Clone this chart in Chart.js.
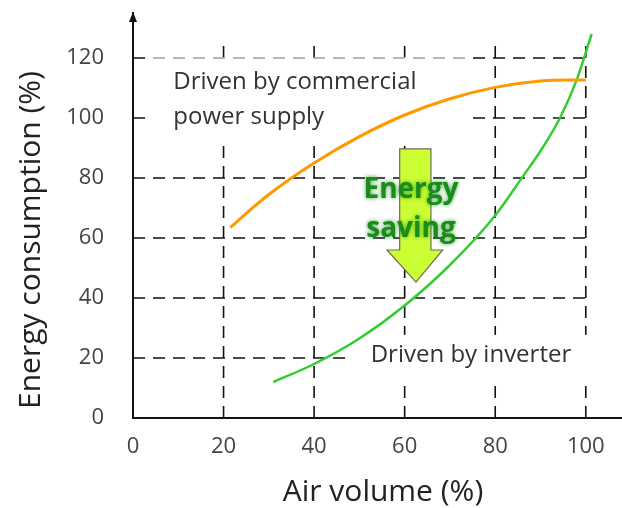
<!DOCTYPE html>
<html>
<head>
<meta charset="utf-8">
<script src="https://cdn.jsdelivr.net/npm/chart.js@4"></script>
<style>
    html, body { margin: 0; padding: 0; background: #fff; }
    #wrap { width: 622px; height: 508px; }
</style>
</head>
<body>
<div id="wrap"><canvas id="myChart"></canvas></div>
<script>
// values
const xTitle = 'Air volume (%)';
const yTitle = 'Energy consumption (%)';
const gridXValues = [20, 40, 60, 80, 100];
const gridYValues = [20, 40, 60, 80, 100, 120];

const commercialX = [21.5, 30, 40, 50, 60, 70, 80, 90, 100];
const commercialY = [63.5, 74.5, 85, 93.8, 101, 106.4, 110.2, 112.3, 112.7];

const inverterX = [31, 40, 50, 60, 70, 80, 86, 90, 94.3, 98, 101.3];
const inverterY = [12, 18, 26.5, 37.5, 51, 67.5, 80.3, 89, 100, 112.7, 128];

const commercialLabel = ['Driven by commercial', 'power supply'];
const inverterLabel = 'Driven by inverter';
const savingLabel = ['Energy', 'saving'];

const FONT = '"Open Sans", "Noto Sans", sans-serif';

function toPoints(xs, ys) {
    return xs.map(function (v, i) { return { x: v, y: ys[i] }; });
}

const extras = {
    id: 'extras',
    beforeDatasetsDraw(chart) {
        const ctx = chart.ctx;
        const x = chart.scales.x;
        const y = chart.scales.y;
        ctx.save();
        // dashed grid, limited to 0..100 / 0..125
        ctx.strokeStyle = '#111';
        ctx.lineWidth = 1.6;
        ctx.setLineDash([12, 8]);
        gridXValues.forEach(function (v) {
            const px = x.getPixelForValue(v);
            ctx.beginPath();
            ctx.moveTo(px, y.getPixelForValue(0));
            ctx.lineTo(px, y.getPixelForValue(125));
            ctx.stroke();
        });
        gridYValues.forEach(function (v) {
            const py = y.getPixelForValue(v);
            ctx.beginPath();
            ctx.moveTo(x.getPixelForValue(0), py);
            ctx.lineTo(x.getPixelForValue(100), py);
            ctx.stroke();
        });
        ctx.setLineDash([]);
        // white boxes behind the labels
        let l = x.getPixelForValue(3.7), r = x.getPixelForValue(74);
        let t = y.getPixelForValue(120), b = y.getPixelForValue(92.7);
        ctx.fillStyle = 'rgba(255,255,255,0.6)';
        ctx.fillRect(l, t - 1, r - l, b - t + 1);
        ctx.fillStyle = '#fff';
        ctx.fillRect(l, t + 1.5, r - l, b - t - 1.5);
        l = x.getPixelForValue(47.2); r = x.getPixelForValue(104);
        t = y.getPixelForValue(27.7); b = y.getPixelForValue(12.7);
        ctx.fillRect(l, t, r - l, b - t);

        // labels
        ctx.fillStyle = '#333';
        ctx.font = '24px ' + FONT;
        ctx.textAlign = 'left';
        ctx.textBaseline = 'middle';
        ctx.fillText(commercialLabel[0], x.getPixelForValue(8.9), y.getPixelForValue(112));
        ctx.fillText(commercialLabel[1], x.getPixelForValue(8.9), y.getPixelForValue(100.3));
        ctx.fillText(inverterLabel, x.getPixelForValue(52.5), y.getPixelForValue(21));
        ctx.restore();
    },
    afterDatasetsDraw(chart) {
        const ctx = chart.ctx;
        const x = chart.scales.x;
        const y = chart.scales.y;
        ctx.save();
        // big arrow
        const sl = x.getPixelForValue(58.9), sr = x.getPixelForValue(65.8);
        const hl = x.getPixelForValue(56.1), hr = x.getPixelForValue(68.4);
        const tx = x.getPixelForValue(62.5);
        const top = y.getPixelForValue(89.7), base = y.getPixelForValue(56), tip = y.getPixelForValue(45.3);
        ctx.beginPath();
        ctx.moveTo(sl, top);
        ctx.lineTo(sr, top);
        ctx.lineTo(sr, base);
        ctx.lineTo(hr, base);
        ctx.lineTo(tx, tip);
        ctx.lineTo(hl, base);
        ctx.lineTo(sl, base);
        ctx.closePath();
        ctx.fillStyle = '#ccff33';
        ctx.fill();
        ctx.strokeStyle = '#6e6e5a';
        ctx.lineWidth = 1.2;
        ctx.stroke();

        // energy saving text
        ctx.font = 'bold 28px ' + FONT;
        ctx.textAlign = 'center';
        ctx.textBaseline = 'middle';
        ctx.shadowColor = 'rgba(20,140,20,0.8)';
        ctx.shadowBlur = 4;
        ctx.fillStyle = '#1a8c1a';
        ctx.fillText(savingLabel[0], x.getPixelForValue(61.4), y.getPixelForValue(76));
        ctx.fillText(savingLabel[1], x.getPixelForValue(61.4), y.getPixelForValue(63));
        ctx.restore();
    },
    afterDraw(chart) {
        const ctx = chart.ctx;
        const area = chart.chartArea;
        const x = chart.scales.x;
        ctx.save();
        // arrowhead on top of y axis
        const ax = x.getPixelForValue(0);
        ctx.fillStyle = '#111';
        ctx.beginPath();
        ctx.moveTo(ax, area.top - 1);
        ctx.lineTo(ax - 4, area.top + 9);
        ctx.lineTo(ax + 4, area.top + 9);
        ctx.closePath();
        ctx.fill();
        // axis titles
        ctx.fillStyle = '#222';
        ctx.font = '30px ' + FONT;
        ctx.textAlign = 'center';
        ctx.textBaseline = 'middle';
        ctx.fillText(xTitle, 383, 492);
        ctx.translate(31, 240);
        ctx.rotate(-Math.PI / 2);
        ctx.fillText(yTitle, 0, 0);
        ctx.restore();
    }
};

const ctx = document.getElementById('myChart');

const myChart = new Chart(ctx, {
    type: 'line',
    data: {
        datasets: [{
            label: 'Driven by commercial power supply',
            data: toPoints(commercialX, commercialY),
            borderColor: '#ff9900',
            borderWidth: 3,
            pointRadius: 0,
            tension: 0.4
        }, {
            label: 'Driven by inverter',
            data: toPoints(inverterX, inverterY),
            borderColor: '#33cc33',
            borderWidth: 2.5,
            pointRadius: 0,
            cubicInterpolationMode: 'monotone'
        }]
    },
    options: {
        responsive: true,
        maintainAspectRatio: false,
        animation: false,
        layout: {
            padding: { top: 13, right: 0, left: 0, bottom: 0 }
        },
        scales: {
            x: {
                type: 'linear',
                min: 0,
                max: 108,
                grid: { display: false },
                border: { display: true, color: '#111', width: 2 },
                ticks: {
                    stepSize: 20,
                    includeBounds: false,
                    padding: 8,
                    color: '#444',
                    font: { size: 22, family: FONT }
                },
                afterFit: function (scale) {
                    scale.height = 90;
                    scale.paddingLeft = 0;
                    scale.paddingRight = 0;
                }
            },
            y: {
                min: 0,
                max: 135,
                grid: { display: false },
                border: { display: true, color: '#111', width: 2 },
                ticks: {
                    stepSize: 20,
                    includeBounds: false,
                    padding: 21,
                    color: '#444',
                    font: { size: 22, family: FONT }
                },
                afterFit: function (scale) {
                    scale.width = 133;
                    scale.paddingTop = 0;
                    scale.paddingBottom = 0;
                }
            }
        },
        plugins: {
            legend: { display: false },
            tooltip: { enabled: false }
        }
    },
    plugins: [extras]
});
</script>
</body>
</html>
